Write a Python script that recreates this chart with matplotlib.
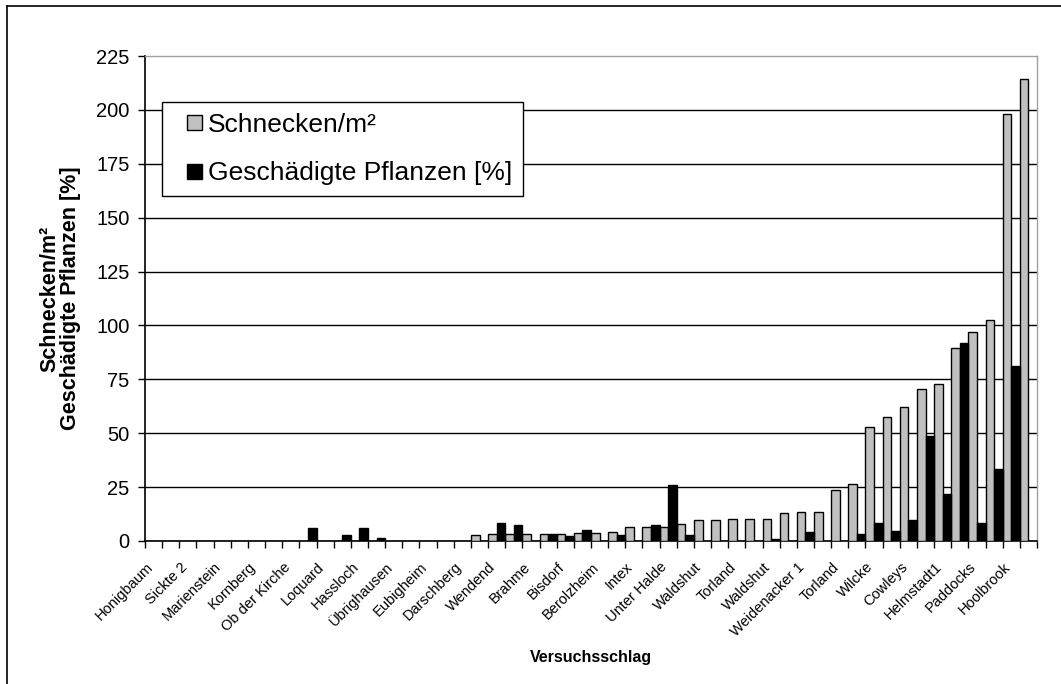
import matplotlib
matplotlib.use("Agg")
import matplotlib.pyplot as plt
from matplotlib.lines import Line2D
from matplotlib.patches import Patch, Rectangle
from matplotlib.legend_handler import HandlerPatch
from matplotlib.transforms import ScaledTranslation
import numpy as np

plt.rcParams['font.family'] = ['Liberation Sans', 'DejaVu Sans']

# Field names (labels shown on every second field)
labels = ["Honigbaum", "Sickte 2", "Marienstein", "Kornberg", "Ob der Kirche",
          "Loquard", "Hassloch", "Übrighausen", "Eubigheim", "Darschberg",
          "Wendend", "Brahme", "Bisdorf", "Berolzheim", "Intex", "Unter Halde",
          "Waldshut", "Torland", "Waldshut", "Weidenacker 1", "Torland",
          "Wilcke", "Cowleys", "Helmstadt1", "Paddocks", "Hoolbrook"]

# Slugs per m² for each of the 52 fields
schnecken = [0, 0, 0, 0, 0, 0, 0, 0, 0, 0,
             0, 0, 0, 0, 0, 0, 0, 0, 0, 2.8,
             3.4, 3.4, 3.4, 3.4, 3.4, 3.5, 3.5, 4.0, 6.6, 6.7,
             6.7, 7.7, 9.9, 9.9, 10.2, 10.2, 10.2, 12.8, 13.3, 13.3,
             23.8, 26.3, 52.9, 57.7, 62.0, 70.4, 72.8, 89.7, 96.9, 102.6,
             198.0, 214.5]

# Damaged plants in percent for each of the 52 fields
geschaedigt = [0, 0, 0, 0, 0, 0, 0, 0, 0, 5.9,
               0, 2.9, 6.2, 1.2, 0, 0, 0, 0, 0, 0,
               8.2, 7.3, 0, 3.4, 2.5, 5.2, 0, 2.6, 0, 7.2,
               25.9, 2.7, 0, 0, 0, 0, 1.1, 0, 4.0, 0,
               0, 3.4, 8.5, 4.6, 9.7, 48.6, 21.6, 91.8, 8.2, 33.2,
               81.0, 0]

GREY = '#C0C0C0'


class SquareHandler(HandlerPatch):
    """Small square key placed at the right end of the handle box."""

    def create_artists(self, legend, orig_handle, xdescent, ydescent,
                       width, height, fontsize, trans):
        s = 10.8  # points
        x0 = -xdescent + width - s
        y0 = -ydescent + (height - s) / 2
        rect = Rectangle((x0, y0), s, s, facecolor=orig_handle.get_facecolor(),
                         edgecolor='black', linewidth=1.0, transform=trans)
        return [rect]


n = len(schnecken)
idx = np.arange(n)

fig = plt.figure(figsize=(10.61, 6.84), dpi=100)
ax = fig.add_axes([145 / 1061, 143 / 684, 892 / 1061, 485 / 684])

ax.bar(idx, schnecken, width=0.5, align='edge', color=GREY,
       edgecolor='black', linewidth=1.0, zorder=3)
ax.bar(idx + 0.5, geschaedigt, width=0.5, align='edge', color='black',
       edgecolor='black', linewidth=1.0, zorder=3)

ax.set_xlim(0, n)
ax.set_ylim(0, 225)
ax.set_yticks(np.arange(0, 226, 25))
ax.tick_params(axis='y', labelsize=14.5, length=5, width=1, direction='out',
               pad=6)
for y in np.arange(25, 225, 25):
    ax.axhline(y, color='black', linewidth=1.0, zorder=1)

# Category boundaries as ticks, names centred on every second field
ax.set_xticks(np.arange(0, n + 1))
ax.set_xticklabels([])
ax.tick_params(axis='x', which='major', length=5, width=1, direction='out')
ax.set_xticks(np.arange(0, n, 2) + 0.5, minor=True)
ax.set_xticklabels(labels, minor=True, rotation=45, ha='right', va='top',
                   rotation_mode='anchor', fontsize=10.5)
ax.tick_params(axis='x', which='minor', length=0, pad=13.5)
shift = ScaledTranslation(-8 / 100, 0, fig.dpi_scale_trans)
for lab in ax.get_xticklabels(minor=True):
    lab.set_transform(lab.get_transform() + shift)

for side in ['top', 'right']:
    ax.spines[side].set_color('#A0A0A0')
    ax.spines[side].set_linewidth(1.0)
for side in ['left', 'bottom']:
    ax.spines[side].set_color('black')
    ax.spines[side].set_linewidth(1.2)

ax.set_xlabel("Versuchsschlag", fontsize=11.5, fontweight='bold')
ax.xaxis.set_label_coords((591 - 145) / 892, -(650 - 541) / 485)
ax.set_ylabel("Schnecken/m²\nGeschädigte Pflanzen [%]", fontsize=15.5,
              fontweight='bold', linespacing=1.0)
ax.yaxis.set_label_coords(-(145 - 81) / 892, 0.5)

handles = [Patch(facecolor=GREY, edgecolor='black', label='Schnecken/m²'),
           Patch(facecolor='black', edgecolor='black',
                 label='Geschädigte Pflanzen [%]')]
leg = ax.legend(handles=handles, loc='upper left',
                bbox_to_anchor=((162 - 145) / 892, 1 - (102 - 56) / 485),
                fontsize=19, frameon=True, fancybox=False, framealpha=1,
                edgecolor='black', handlelength=1.09, handleheight=0.7,
                handletextpad=0.22, borderpad=0.42, labelspacing=0.92,
                borderaxespad=0,
                handler_map={Patch: SquareHandler()})
leg.get_frame().set_linewidth(1.0)
leg.set_zorder(5)

# Outer frame of the chart area
fig.add_artist(Line2D([7 / 1061, 7 / 1061], [0, 1 - 6 / 684],
                      transform=fig.transFigure, color='black', linewidth=1.2))
fig.add_artist(Line2D([7 / 1061, 1], [1 - 6 / 684, 1 - 6 / 684],
                      transform=fig.transFigure, color='black', linewidth=1.2))

fig.savefig("out.png", dpi=100)
